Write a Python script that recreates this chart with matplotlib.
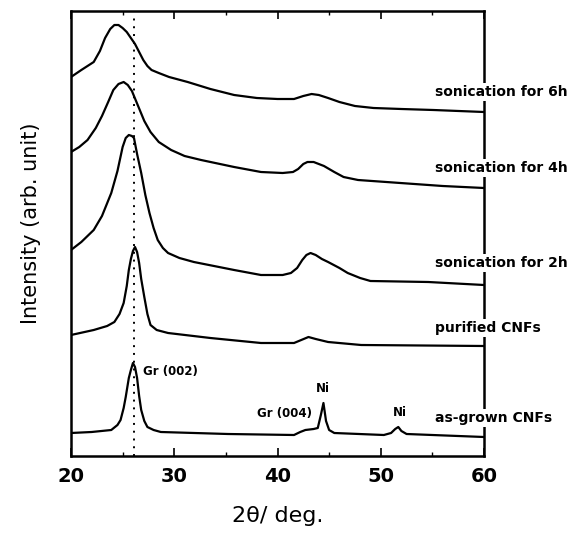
import matplotlib
matplotlib.use("Agg")
import matplotlib.pyplot as plt
from matplotlib.ticker import MultipleLocator

# 2theta readings (deg) and stacked intensities (arb. unit, offsets included)
x_6h = [20.0, 21.0, 22.2, 22.8, 23.3, 23.8, 24.2, 24.6, 25.0, 25.4, 25.8, 26.2, 26.6, 27.0, 27.4, 27.8, 28.5,
        29.5, 31.3, 33.5, 35.8, 38.0, 40.0, 41.6, 42.5, 43.3, 44.0, 44.9, 46.0, 47.5, 49.3, 52.0, 55.1, 60.0]
y_6h = [379, 386, 394, 405, 418, 427, 431, 431, 428, 424, 418, 412, 404, 396, 390, 386, 383,
        379, 374, 367, 361, 358, 357, 357, 360, 362, 361, 358, 354, 350, 348, 347, 346, 344]

x_4h = [20.0, 20.8, 21.6, 22.4, 23.0, 23.6, 24.1, 24.6, 25.1, 25.5, 25.9, 26.3, 26.7, 27.1, 27.7, 28.5, 29.7,
        31.0, 32.6, 35.8, 38.4, 40.5, 41.5, 42.0, 42.5, 42.9, 43.5, 44.0, 44.5, 45.5, 46.4, 47.8, 51.9, 56.0, 60.0]
y_4h = [304, 309, 316, 328, 340, 354, 366, 372, 374, 371, 365, 355, 345, 335, 324, 314, 306,
        300, 296, 289, 284, 283, 284, 287, 292, 294, 294, 292, 290, 284, 279, 276, 273, 270, 268]

x_2h = [20.0, 21.0, 22.2, 23.0, 23.9, 24.5, 25.0, 25.3, 25.6, 25.9, 26.1, 26.4, 26.8, 27.2, 27.6, 28.0, 28.4,
        28.9, 29.4, 30.5, 31.9, 35.8, 38.4, 40.5, 41.3, 41.9, 42.4, 42.8, 43.2, 43.7, 44.3, 44.9, 46.0, 46.8,
        48.0, 49.0, 54.6, 60.0]
y_2h = [206, 214, 226, 240, 263, 285, 309, 318, 321, 320, 318, 302, 283, 261, 243, 228, 216,
        208, 203, 198, 194, 186, 181, 181, 183, 188, 196, 201, 203, 201, 197, 194, 188, 183,
        178, 175, 174, 171]

x_pur = [20.0, 22.2, 23.5, 24.2, 24.7, 25.1, 25.4, 25.6, 25.8, 26.0, 26.2, 26.4, 26.6, 26.8, 27.1, 27.4, 27.7,
         28.3, 29.4, 33.5, 38.4, 41.6, 42.3, 43.0, 43.7, 44.9, 48.1, 60.0]
y_pur = [121, 126, 130, 134, 142, 153, 170, 186, 197, 205, 209, 204, 193, 177, 159, 142, 131,
         126, 123, 118, 113, 113, 116, 119, 117, 114, 111, 110]

x_grown = [20.0, 22.0, 23.9, 24.5, 24.8, 25.1, 25.3, 25.6, 25.8, 26.0, 26.2, 26.4, 26.6, 26.8, 27.1, 27.4, 28.0,
           28.7, 35.2, 41.6, 42.2, 42.7, 43.5, 43.9, 44.2, 44.45, 44.7, 45.0, 45.5, 50.3, 51.0, 51.4, 51.7,
           52.0, 52.5, 60.0]
y_grown = [23, 24, 26, 31, 36, 48, 59, 78, 86, 93, 89, 78, 60, 46, 35, 29, 26,
           24, 22, 21, 24, 26, 27, 28, 41, 53, 35, 26, 23, 21, 23, 27, 29,
           25, 22, 19]

curve_labels = ["sonication for 6h", "sonication for 4h", "sonication for 2h", "purified CNFs", "as-grown CNFs"]
label_y = [364, 288, 193, 128, 38]

peak_names = ["Gr (002)", "Gr (004)", "Ni", "Ni"]
peak_x = [27.0, 38.0, 44.4, 51.9]
peak_y = [84, 43, 67, 44]

gr002 = 26.1

fig = plt.figure(figsize=(5.85, 5.33), dpi=100)
ax = fig.add_axes([71 / 585, 1 - 456 / 533, 413 / 585, 445 / 533])

for xs, ys in [(x_6h, y_6h), (x_4h, y_4h), (x_2h, y_2h), (x_pur, y_pur), (x_grown, y_grown)]:
    ax.plot(xs, ys, color="black", lw=1.6)

ax.plot([gr002, gr002], [0, 438], color="black", lw=1.4, ls=(0, (1, 3)))

for t, yy in zip(curve_labels, label_y):
    ax.text(55.3, yy, t, ha="left", va="center", fontsize=10, fontweight="bold", clip_on=False,
            bbox=dict(facecolor="white", edgecolor="none", pad=1.5))

ax.text(peak_x[0], peak_y[0], peak_names[0], ha="left", va="center", fontsize=8.5, fontweight="bold")
ax.text(peak_x[1], peak_y[1], peak_names[1], ha="left", va="center", fontsize=8.5, fontweight="bold")
ax.text(peak_x[2], peak_y[2], peak_names[2], ha="center", va="center", fontsize=8.5, fontweight="bold")
ax.text(peak_x[3], peak_y[3], peak_names[3], ha="center", va="center", fontsize=8.5, fontweight="bold")

ax.set_xlim(20, 60)
ax.set_ylim(0, 445)
ax.xaxis.set_major_locator(MultipleLocator(10))
ax.xaxis.set_minor_locator(MultipleLocator(5))
ax.tick_params(axis="x", which="both", direction="in", top=True, labelsize=14, pad=8)
ax.tick_params(axis="x", which="major", length=6, width=1.2)
ax.tick_params(axis="x", which="minor", length=3, width=1.0)
for lab in ax.get_xticklabels():
    lab.set_fontweight("bold")
ax.set_yticks([])
for s in ax.spines.values():
    s.set_linewidth(1.8)

ax.set_xlabel("2θ/ deg.", fontsize=16, labelpad=14)
fig.text(31 / 585, 1 - 223 / 533, "Intensity (arb. unit)", rotation=90, ha="center", va="center", fontsize=15)

fig.savefig("out.png", dpi=100)
